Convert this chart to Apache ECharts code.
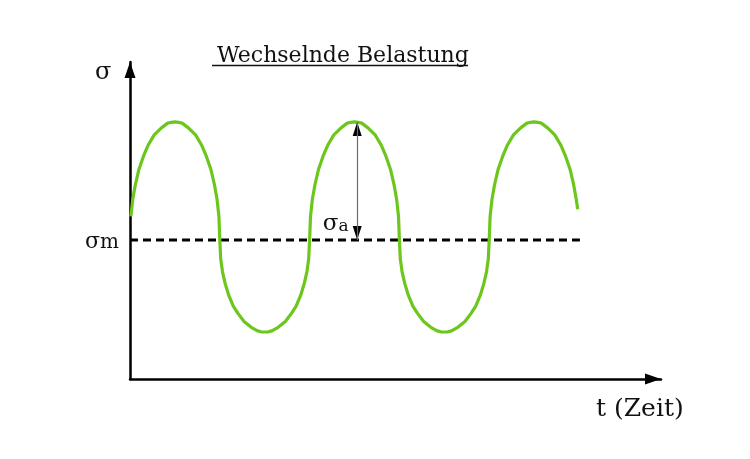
<!DOCTYPE html>
<html>
<head>
<meta charset="utf-8">
<script src="https://cdn.jsdelivr.net/npm/echarts@6/dist/echarts.min.js"></script>
<style>
  html, body { margin: 0; padding: 0; background: #fff; }
  #chart { width: 750px; height: 459px; }
</style>
</head>
<body>
<div id="chart"></div>
<script>
// time in half periods, sigma relative to sigma_m (peak = 1)
var tValues = [
  0.01, 0.03, 0.06, 0.1, 0.15, 0.2, 0.27, 0.35, 0.42, 0.46, 0.5, 0.54, 0.58, 0.65, 0.73, 0.8, 0.85, 0.9, 0.94, 0.97, 0.99,
  1, 1.01, 1.03, 1.06, 1.1, 1.15, 1.2, 1.27, 1.35, 1.42, 1.46, 1.5, 1.54, 1.58, 1.65, 1.73, 1.8, 1.85, 1.9, 1.94, 1.97, 1.99,
  2, 2.01, 2.03, 2.06, 2.1, 2.15, 2.2, 2.27, 2.35, 2.42, 2.46, 2.5, 2.54, 2.58, 2.65, 2.73, 2.8, 2.85, 2.9, 2.94, 2.97, 2.99,
  3, 3.01, 3.03, 3.06, 3.1, 3.15, 3.2, 3.27, 3.35, 3.42, 3.46, 3.5, 3.54, 3.58, 3.65, 3.73, 3.8, 3.85, 3.9, 3.94, 3.97, 3.99,
  4, 4.01, 4.03, 4.06, 4.1, 4.15, 4.2, 4.27, 4.35, 4.42, 4.46, 4.5, 4.54, 4.58, 4.65, 4.73, 4.8, 4.85, 4.9, 4.94, 4.97, 4.985
];
var sigmaValues = [
  0.2, 0.34, 0.47, 0.6, 0.71, 0.8, 0.89, 0.95, 0.99, 0.997, 1, 0.997, 0.99, 0.95, 0.89, 0.8, 0.71, 0.6, 0.47, 0.34, 0.2,
  0, -0.16, -0.27, -0.37, -0.47, -0.56, -0.62, -0.69, -0.74, -0.77, -0.778, -0.78, -0.778, -0.77, -0.74, -0.69, -0.62, -0.56, -0.47, -0.37, -0.27, -0.16,
  0, 0.2, 0.34, 0.47, 0.6, 0.71, 0.8, 0.89, 0.95, 0.99, 0.997, 1, 0.997, 0.99, 0.95, 0.89, 0.8, 0.71, 0.6, 0.47, 0.34, 0.2,
  0, -0.16, -0.27, -0.37, -0.47, -0.56, -0.62, -0.69, -0.74, -0.77, -0.778, -0.78, -0.778, -0.77, -0.74, -0.69, -0.62, -0.56, -0.47, -0.37, -0.27, -0.16,
  0, 0.2, 0.34, 0.47, 0.6, 0.71, 0.8, 0.89, 0.95, 0.99, 0.997, 1, 0.997, 0.99, 0.95, 0.89, 0.8, 0.71, 0.6, 0.47, 0.34, 0.26
];
var meanT = [0, 5.01];
var meanSigma = [0, 0];
var ampT = 2.53;
var ampSigma = [0, 1];

var serif = 'DejaVu Serif';
var ink = '#111';

var curve = tValues.map(function (t, i) { return [t, sigmaValues[i]]; });
var meanLine = meanT.map(function (t, i) { return [t, meanSigma[i]]; });

var chart = echarts.init(document.getElementById('chart'));

chart.setOption({
  animation: false,
  title: {
    text: 'Wechselnde Belastung',
    left: 212,
    top: 40,
    textStyle: { fontFamily: serif, fontSize: 22, fontWeight: 'normal', color: ink }
  },
  grid: { left: 130, right: 89, top: 62, bottom: 80 },
  xAxis: {
    type: 'value',
    min: 0,
    max: 5.913,
    axisLine: {
      onZero: false,
      symbol: ['none', 'triangle'],
      symbolSize: [11, 16],
      symbolOffset: [0, -8],
      lineStyle: { color: '#000', width: 2.5 }
    },
    axisTick: { show: false },
    axisLabel: { show: false },
    splitLine: { show: false }
  },
  yAxis: {
    type: 'value',
    min: -1.178,
    max: 1.508,
    axisLine: {
      show: true,
      onZero: false,
      symbol: ['none', 'triangle'],
      symbolSize: [11, 16],
      symbolOffset: [0, -8],
      lineStyle: { color: '#000', width: 2.5 }
    },
    axisTick: { show: false },
    axisLabel: {
      customValues: [0],
      formatter: function () { return '{s|σ}{m|m}'; },
      margin: 11,
      rich: {
        s: { fontFamily: serif, fontSize: 22, color: ink, padding: [5, 0, 0, 0] },
        m: { fontFamily: serif, fontSize: 20, color: ink, padding: [5, 0, 0, 0] }
      }
    },
    splitLine: { show: false }
  },
  series: [
    {
      type: 'line',
      data: meanLine,
      symbol: 'none',
      lineStyle: { color: '#000', width: 3, type: [8, 5] },
      z: 2
    },
    {
      type: 'line',
      data: curve,
      symbol: 'none',
      smooth: false,
      lineStyle: { color: '#6cc61c', width: 3.2 },
      z: 3,
      markLine: {
        silent: true,
        symbol: ['none', 'none'],
        lineStyle: { color: '#6b6b6b', width: 1.2, type: 'solid' },
        label: { show: false },
        data: [[{ coord: [ampT, ampSigma[0]] }, { coord: [ampT, ampSigma[1]] }]]
      }
    },
    {
      type: 'scatter',
      data: [[ampT, ampSigma[1]]],
      symbol: 'triangle',
      symbolSize: [9, 14],
      symbolOffset: [0, 7],
      itemStyle: { color: '#000', opacity: 1 },
      z: 4
    },
    {
      type: 'scatter',
      data: [[ampT, ampSigma[0]]],
      symbol: 'triangle',
      symbolSize: [9, 14],
      symbolRotate: 180,
      symbolOffset: [0, -7],
      itemStyle: { color: '#000', opacity: 1 },
      label: {
        show: true,
        position: 'left',
        distance: 4,
        offset: [0, -9],
        formatter: '{s|σ}{a|a}',
        rich: {
          s: { fontFamily: serif, fontSize: 23, color: ink },
          a: { fontFamily: serif, fontSize: 17, color: ink, padding: [5, 0, 0, 0] }
        }
      },
      z: 4
    }
  ],
  graphic: [
    { type: 'line', shape: { x1: 212, y1: 65.5, x2: 468, y2: 65.5 }, style: { stroke: ink, lineWidth: 1.5 } },
    { type: 'text', left: 95, top: 61, style: { text: 'σ', font: '24px "DejaVu Serif"', fill: ink } },
    { type: 'text', left: 596, top: 397, style: { text: 't (Zeit)', font: '25px "DejaVu Serif"', fill: ink } }
  ]
});
</script>
</body>
</html>
